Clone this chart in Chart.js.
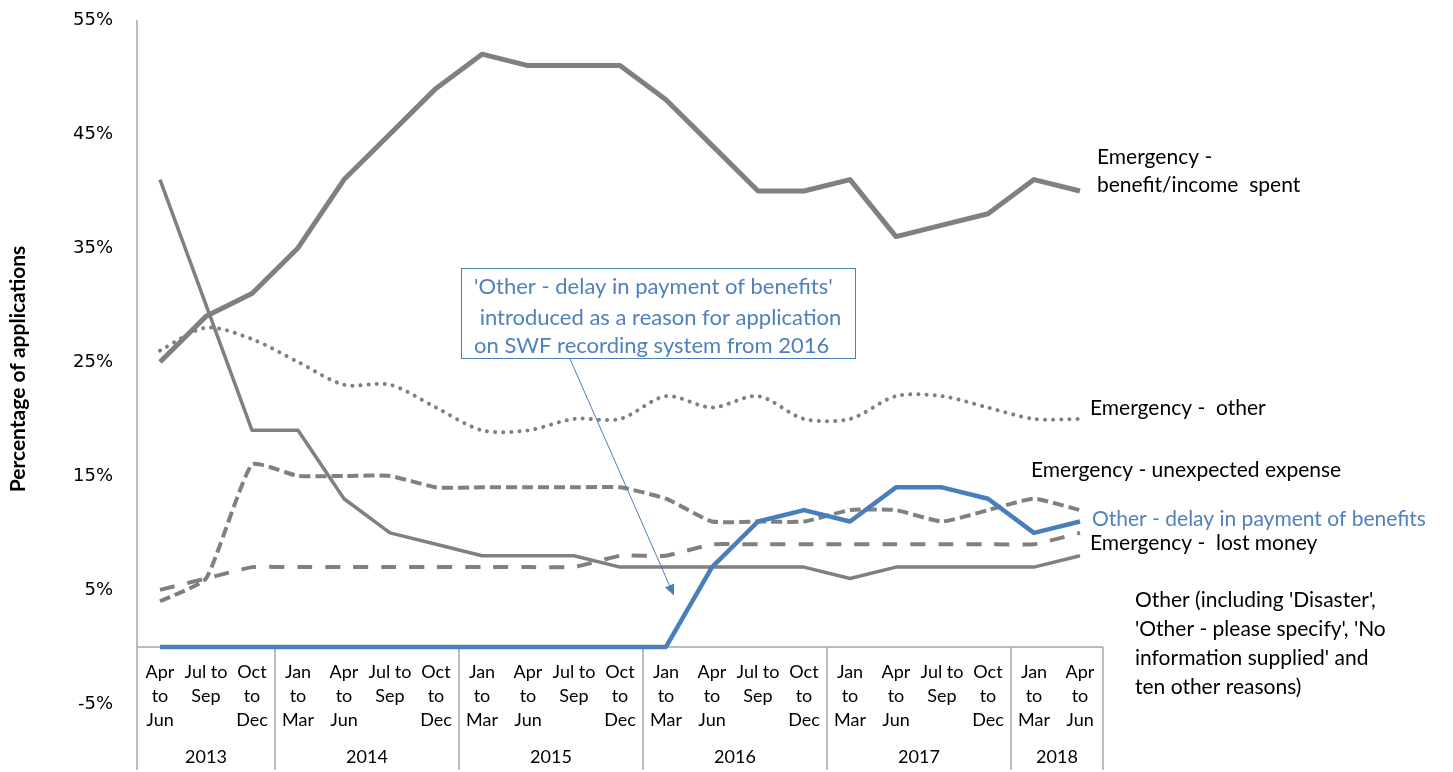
<!DOCTYPE html>
<html>
<head>
<meta charset="utf-8">
<script src="https://cdn.jsdelivr.net/npm/chart.js@4/dist/chart.umd.min.js"></script>
<style>
  html, body { margin: 0; padding: 0; background: #fff; overflow: hidden; }
  canvas { display: block; }
</style>
</head>
<body>
<canvas id="swfChart" width="1453" height="772"></canvas>
<script>
// quarters, each split into the lines shown under the axis
var quarters = [
    ['Apr', 'to', 'Jun'], ['Jul to', 'Sep'], ['Oct', 'to', 'Dec'],
    ['Jan', 'to', 'Mar'], ['Apr', 'to', 'Jun'], ['Jul to', 'Sep'], ['Oct', 'to', 'Dec'],
    ['Jan', 'to', 'Mar'], ['Apr', 'to', 'Jun'], ['Jul to', 'Sep'], ['Oct', 'to', 'Dec'],
    ['Jan', 'to', 'Mar'], ['Apr', 'to', 'Jun'], ['Jul to', 'Sep'], ['Oct', 'to', 'Dec'],
    ['Jan', 'to', 'Mar'], ['Apr', 'to', 'Jun'], ['Jul to', 'Sep'], ['Oct', 'to', 'Dec'],
    ['Jan', 'to', 'Mar'], ['Apr', 'to', 'Jun']
];
var years = ['2013', '2014', '2015', '2016', '2017', '2018'];
var quartersPerYear = [3, 4, 4, 4, 4, 2];

var yTicks = [-5, 5, 15, 25, 35, 45, 55];

// percentage of applications by reason
var delayInPayment = [0, 0, 0, 0, 0, 0, 0, 0, 0, 0, 0, 0, 7, 11, 12, 11, 14, 14, 13, 10, 11];
var benefitSpent = [25, 29, 31, 35, 41, 45, 49, 52, 51, 51, 51, 48, 44, 40, 40, 41, 36, 37, 38, 41, 40];
var otherReasons = [41, 30, 19, 19, 13, 10, 9, 8, 8, 8, 7, 7, 7, 7, 7, 6, 7, 7, 7, 7, 8];
var emergencyOther = [26, 28, 27, 25, 23, 23, 21, 19, 19, 20, 20, 22, 21, 22, 20, 20, 22, 22, 21, 20, 20];
var unexpectedExpense = [4, 6, 16, 15, 15, 15, 14, 14, 14, 14, 14, 13, 11, 11, 11, 12, 12, 11, 12, 13, 12];
var lostMoney = [5, 6, 7, 7, 7, 7, 7, 7, 7, 7, 8, 8, 9, 9, 9, 9, 9, 9, 9, 9, 10];

var GREY = '#808080';
var BLUE = '#4A7EBB';
var BLUE_TEXT = '#4F81BD';
var LABEL_FONT = 'Lato, "Open Sans", sans-serif';

var ctx = document.getElementById('swfChart').getContext('2d');

// axis lines and year boxes go under the lines
var axisLines = {
    id: 'axisLines',
    beforeDatasetsDraw: function (chart) {
        var c = chart.ctx;
        var area = chart.chartArea;
        var zeroY = chart.scales.y.getPixelForValue(0);
        var step = (area.right - area.left) / quarters.length;

        c.save();
        c.strokeStyle = '#A6A6A6';
        c.lineWidth = 1.5;
        c.beginPath();
        c.moveTo(area.left, area.top);
        c.lineTo(area.left, area.bottom);
        c.moveTo(area.left, zeroY);
        c.lineTo(area.right, zeroY);
        var idx = 0;
        quartersPerYear.forEach(function (n) {
            idx += n;
            var bx = area.left + idx * step;
            c.moveTo(bx, zeroY);
            c.lineTo(bx, area.bottom);
        });
        c.stroke();
        c.restore();
    }
};

// tick labels, quarter/year labels, line labels and the note box
var decorations = {
    id: 'decorations',
    afterDraw: function (chart) {
        var c = chart.ctx;
        var area = chart.chartArea;
        var x = chart.scales.x;
        var y = chart.scales.y;
        var zeroY = y.getPixelForValue(0);
        var step = (area.right - area.left) / quarters.length;

        c.save();
        // y tick labels
        c.fillStyle = '#000';
        c.font = '18px "DejaVu Sans"';
        c.textAlign = 'right';
        c.textBaseline = 'middle';
        yTicks.forEach(function (v) {
            c.fillText(v + '%', area.left - 24, y.getPixelForValue(v));
        });

        // quarter labels
        c.font = '18px ' + LABEL_FONT;
        c.textAlign = 'center';
        quarters.forEach(function (lines, i) {
            var px = x.getPixelForValue(i);
            lines.forEach(function (t, j) {
                c.fillText(t, px, zeroY + 25 + j * 24);
            });
        });

        // year labels
        var idx = 0;
        quartersPerYear.forEach(function (n, k) {
            var x0 = area.left + idx * step;
            var x1 = area.left + (idx + n) * step;
            c.fillText(years[k], (x0 + x1) / 2, area.bottom - 13);
            idx += n;
        });

        // y axis title
        c.save();
        c.translate(18, 369);
        c.rotate(-Math.PI / 2);
        c.font = 'bold 21px ' + LABEL_FONT;
        c.fillText('Percentage of applications', 0, 0);
        c.restore();

        // line labels on the right
        c.textAlign = 'left';
        c.font = '21px ' + LABEL_FONT;
        c.fillText('Emergency -', 1097, 157);
        c.fillText('benefit/income  spent', 1097, 185);
        c.fillText('Emergency -  other', 1090, 408);
        c.fillText('Emergency - unexpected expense', 1031, 470);
        c.fillText('Emergency -  lost money', 1090, 543);
        ['Other (including \'Disaster\',', '\'Other - please specify\', \'No',
         'information supplied\' and', 'ten other reasons)'].forEach(function (t, j) {
            c.fillText(t, 1135, 600 + j * 29);
        });
        c.fillStyle = BLUE_TEXT;
        c.fillText('Other - delay in payment of benefits', 1092, 519);

        // note box with arrow
        c.strokeStyle = BLUE;
        c.lineWidth = 1;
        c.strokeRect(461.5, 268.5, 394, 90);
        c.font = '22px ' + LABEL_FONT;
        c.fillText('\'Other - delay in payment of benefits\'', 474, 287);
        c.fillText(' introduced as a reason for application', 474, 318);
        c.fillText('on SWF recording system from 2016', 474, 346);

        var ax0 = 570, ay0 = 359;
        var ax1 = x.getPixelForValue(11) + 8, ay1 = y.getPixelForValue(4.5);
        var ang = Math.atan2(ay1 - ay0, ax1 - ax0);
        c.beginPath();
        c.moveTo(ax0, ay0);
        c.lineTo(ax1 - 8 * Math.cos(ang), ay1 - 8 * Math.sin(ang));
        c.stroke();
        c.beginPath();
        c.moveTo(ax1, ay1);
        c.lineTo(ax1 - 11 * Math.cos(ang) + 5 * Math.sin(ang), ay1 - 11 * Math.sin(ang) - 5 * Math.cos(ang));
        c.lineTo(ax1 - 11 * Math.cos(ang) - 5 * Math.sin(ang), ay1 - 11 * Math.sin(ang) + 5 * Math.cos(ang));
        c.closePath();
        c.fillStyle = BLUE;
        c.fill();
        c.restore();
    }
};

function series(label, values, color, width, dash, tension) {
    return {
        label: label,
        data: values,
        borderColor: color,
        backgroundColor: color,
        borderWidth: width,
        borderDash: dash,
        borderCapStyle: dash.length && dash[0] < 1 ? 'round' : 'butt',
        borderJoinStyle: 'round',
        tension: tension,
        pointRadius: 0,
        fill: false
    };
}

var myChart = new Chart(ctx, {
    type: 'line',
    data: {
        labels: quarters.map(function (q) { return q.join(' '); }),
        datasets: [
            series('Other - delay in payment of benefits', delayInPayment, BLUE, 4.5, [], 0),
            series('Emergency - benefit/income spent', benefitSpent, GREY, 5, [], 0),
            series('Other', otherReasons, GREY, 3.5, [], 0),
            series('Emergency - other', emergencyOther, GREY, 4, [0.1, 8], 0.3),
            series('Emergency - unexpected expense', unexpectedExpense, GREY, 4, [11, 5], 0.15),
            series('Emergency - lost money', lostMoney, GREY, 4, [15, 13], 0.1)
        ]
    },
    options: {
        responsive: false,
        animation: false,
        layout: { padding: { left: 137, right: 350, top: 20, bottom: 2 } },
        plugins: {
            legend: { display: false },
            tooltip: { enabled: false }
        },
        scales: {
            x: {
                display: false,
                offset: true
            },
            y: {
                display: false,
                min: -10.8,
                max: 55
            }
        }
    },
    plugins: [axisLines, decorations]
});
</script>
</body>
</html>
